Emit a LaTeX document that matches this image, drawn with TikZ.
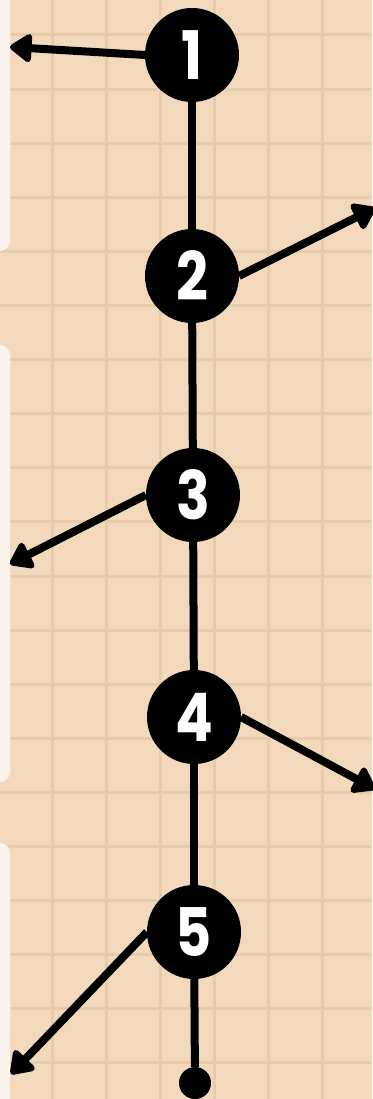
\documentclass[tikz,border=0pt]{standalone}
\usepackage{fontspec}
\setmainfont{Poppins}
\usetikzlibrary{arrows.meta}
\definecolor{bgc}{RGB}{242,217,188}
\definecolor{gridc}{RGB}{232,203,170}
\definecolor{panelc}{RGB}{250,244,237}
\tikzset{
  stepnode/.style={circle, fill=black, minimum size=94pt, inner sep=0pt, outer sep=0pt,
    text=white, font=\fontsize{62}{62}\selectfont\bfseries},
  conn/.style={line width=8pt, black},
  arr/.style={line width=8pt, black, -{Triangle[length=24pt,width=32pt,round]}},
  gridline/.style={gridc, line width=3pt},
  panel/.style={fill=panelc, rounded corners=10pt}
}
\newcommand{\tallnum}[1]{\scalebox{0.9}[1.08]{#1}}
\begin{document}
\begin{tikzpicture}[x=1pt,y=-1pt]
\useasboundingbox (0,0) rectangle (372,1099);
\fill[bgc] (0,0) rectangle (372,1099);
\foreach \gx in {52,106,160,214,268,322} \draw[gridline] (\gx,0) -- (\gx,1099);
\foreach \k in {0,...,19} \draw[gridline] (0,35+54.1*\k) -- (372,35+54.1*\k);
\fill[panel] (-20,-20) rectangle (10,251);
\fill[panel] (-20,345) rectangle (10,782);
\fill[panel] (-20,843) rectangle (10,1130);
% nodes
\node[stepnode] (n1) at (192,55) {\tallnum{1}};
\node[stepnode] (n2) at (192,276) {\tallnum{2}};
\node[stepnode] (n3) at (193,495) {\tallnum{3}};
\node[stepnode] (n4) at (194,717) {\tallnum{4}};
\node[stepnode] (n5) at (194,932) {\tallnum{5}};
\node[circle, fill=black, minimum size=32pt, inner sep=0pt, outer sep=0pt] (end) at (195,1083) {};
% arrow tips
\coordinate (a1) at (10,47);
\coordinate (a2) at (375,208);
\coordinate (a3) at (10,564);
\coordinate (a4) at (375,789);
\coordinate (a5) at (11,1074);
% connectors
\draw[conn] (n1) -- (n2);
\draw[conn] (n2) -- (n3);
\draw[conn] (n3) -- (n4);
\draw[conn] (n4) -- (n5);
\draw[conn] (n5) -- (end);
\draw[arr] (n1.west) -- (a1);
\draw[arr] (n2.east) -- (a2);
\draw[arr] (n3.west) -- (a3);
\draw[arr] (n4.east) -- (a4);
\draw[arr] (n5.west) -- (a5);
\end{tikzpicture}
\end{document}
